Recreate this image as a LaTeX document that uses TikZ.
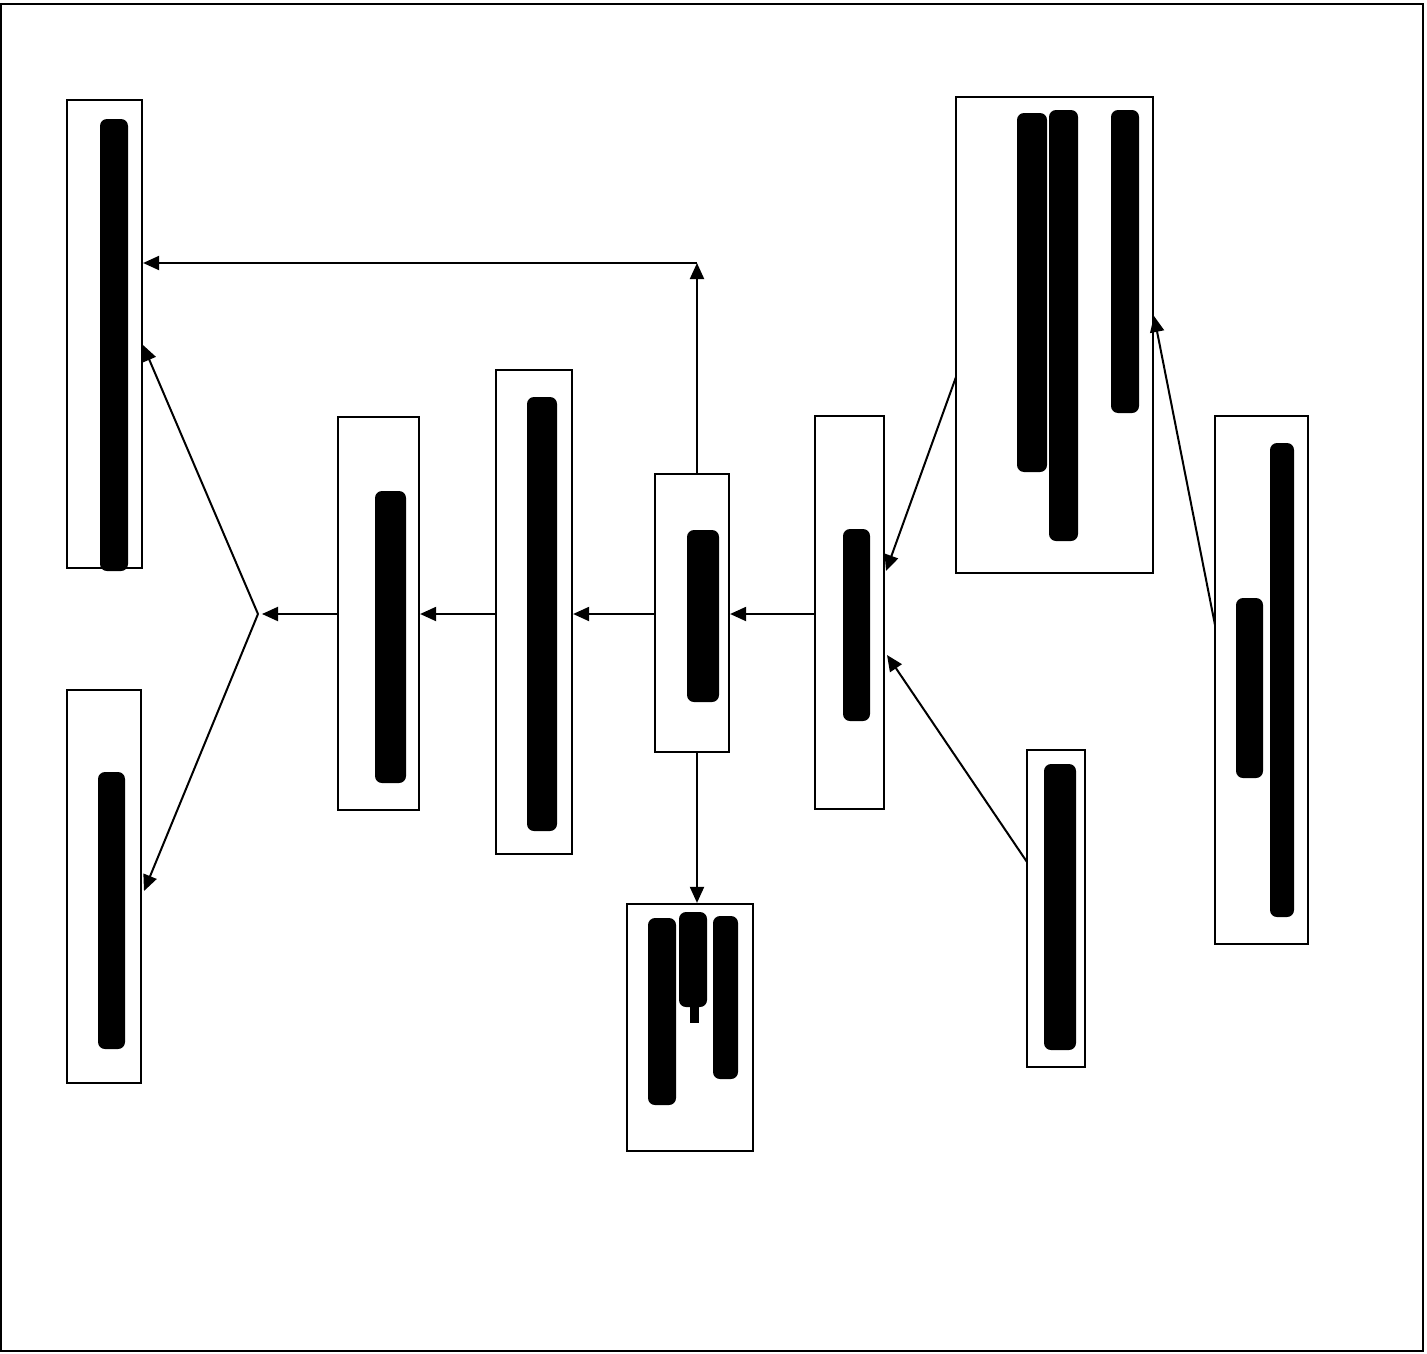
\documentclass[tikz,border=0pt]{standalone}
\usetikzlibrary{arrows.meta,fit}
\begin{document}
\begin{tikzpicture}[x=1pt,y=-1pt,
  box/.style={draw,line width=2.2pt,inner sep=0pt},
  bar/.style={fill=black,rounded corners=7pt},
  arr/.style={line width=2pt,-{Triangle[length=16pt,width=14pt]}}]
\useasboundingbox (0,0) rectangle (1427,1354);
\draw[line width=2.6pt] (1,4) rectangle (1423,1351);
% boxes
\node[box,fit={(67,100) (142,568)}] (A) {};
\node[box,fit={(67,690) (141,1083)}] (B) {};
\node[box,fit={(338,417) (419,810)}] (C) {};
\node[box,fit={(496,370) (572,854)}] (D) {};
\node[box,fit={(655,474) (729,752)}] (E) {};
\node[box,fit={(815,416) (884,809)}] (F) {};
\node[box,fit={(956,97) (1153,573)}] (G) {};
\node[box,fit={(1215,416) (1308,944)}] (H) {};
\node[box,fit={(1027,750) (1085,1067)}] (I) {};
\node[box,fit={(627,904) (753,1151)}] (J) {};
% bars
\fill[bar] (100,119) rectangle (128,571);
\fill[bar] (98,772) rectangle (125,1049);
\fill[bar] (375,491) rectangle (406,783);
\fill[bar] (527,397) rectangle (557,831);
\fill[bar] (687,530) rectangle (719,702);
\fill[bar] (843,529) rectangle (870,721);
\fill[bar] (1017,113) rectangle (1047,472);
\fill[bar] (1049,110) rectangle (1078,541);
\fill[bar] (1111,110) rectangle (1139,413);
\fill[bar] (1236,598) rectangle (1263,778);
\fill[bar] (1270,443) rectangle (1294,917);
\fill[bar] (1044,764) rectangle (1076,1050);
\fill[bar] (648,918) rectangle (676,1105);
\fill[bar] (679,912) rectangle (707,1007);
\fill[black] (690,1000) rectangle (699,1023);
\fill[bar] (713,916) rectangle (738,1079);
% connector points
\coordinate (eUp) at (697,474);
\coordinate (corner) at (697,263);
\coordinate (eDown) at (697,752);
\coordinate (fork) at (258,614);
\coordinate (forkTip) at (262,614);
\coordinate (aIn) at (143,345);
\coordinate (bIn) at (144,891);
\coordinate (gOut) at (956,377);
\coordinate (fInTop) at (886,571);
\coordinate (iOut) at (1027,862);
\coordinate (fInBot) at (887,655);
\coordinate (hOut) at (1215,625);
\coordinate (gIn) at (1154,316);
% connectors
\draw[arr] (eUp) -- (corner);
\draw[arr] (corner) -- (corner -| A.east);
\draw[arr] (eDown) -- (eDown |- J.north);
\draw[arr] (F.west |- 0,614) -- (E.east |- 0,614);
\draw[arr] (E.west |- 0,614) -- (D.east |- 0,614);
\draw[arr] (D.west |- 0,614) -- (C.east |- 0,614);
\draw[arr] (C.west |- 0,614) -- (forkTip);
\draw[arr] (fork) -- (aIn);
\draw[arr] (fork) -- (bIn);
\draw[arr] (gOut) -- (fInTop);
\draw[arr] (iOut) -- (fInBot);
\draw[arr] (hOut) -- (gIn);
\end{tikzpicture}
\end{document}
